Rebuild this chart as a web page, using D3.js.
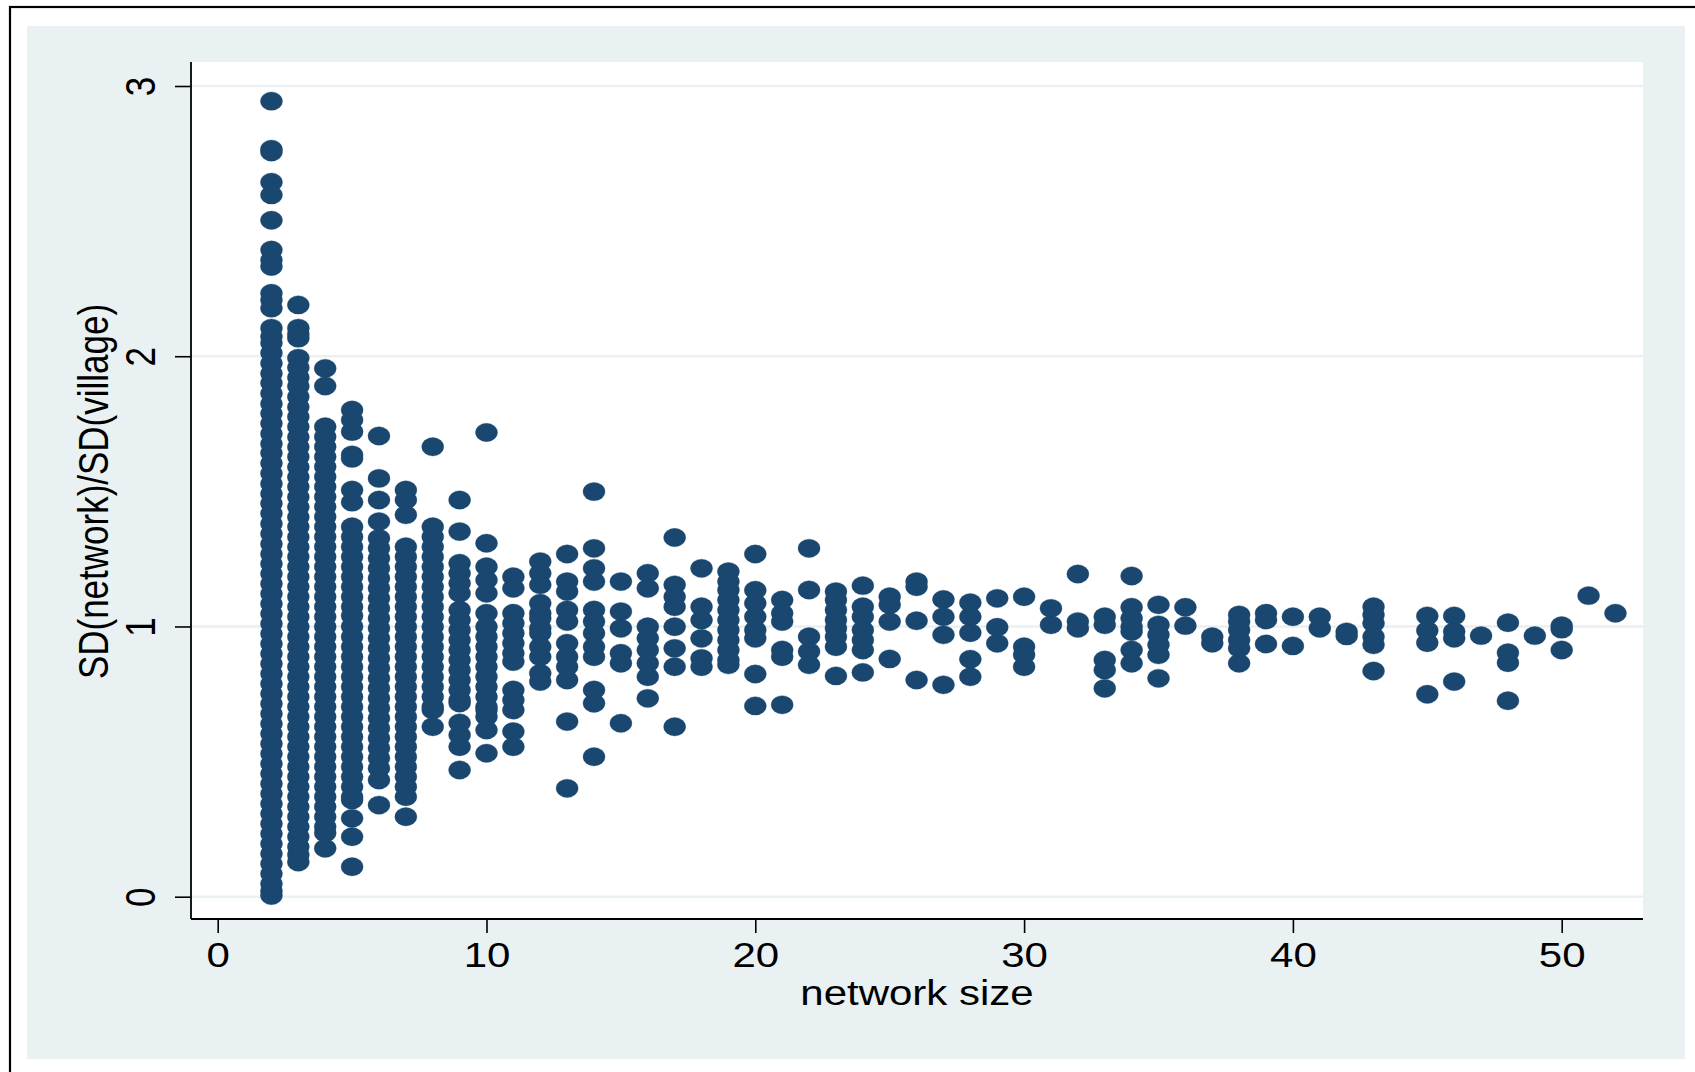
<!DOCTYPE html>
<html>
<head>
<meta charset="utf-8">
<script src="https://cdn.jsdelivr.net/npm/d3@7"></script>
<style>
  html, body { margin: 0; padding: 0; background: #ffffff; }
  svg { display: block; font-family: "Liberation Sans", Arial, sans-serif; }
</style>
</head>
<body>
<svg id="chart" width="1695" height="1072"></svg>
<script>
// ---------- data: SD(network)/SD(village) values read per network size ----------
const col2 = [2.944, 2.766, 2.756, 2.644, 2.597, 2.503, 2.393, 2.356, 2.332, 2.233, 2.208, 2.178, 2.104, 2.073,
  2.049, 2.012, 1.974, 1.936, 1.901, 1.862, 1.824, 1.788, 1.751, 1.713, 1.676, 1.642, 1.604, 1.566, 1.528,
  1.491, 1.455, 1.418, 1.380, 1.343, 1.305, 1.268, 1.232, 1.195, 1.158, 1.121, 1.084, 1.047, 1.010, 0.973,
  0.936, 0.899, 0.862, 0.825, 0.788, 0.751, 0.714, 0.677, 0.640, 0.603, 0.566, 0.529, 0.492, 0.455, 0.418,
  0.381, 0.344, 0.307, 0.270, 0.233, 0.196, 0.159, 0.122, 0.085, 0.048, 0.021, 0.004];
const col3 = [2.190, 2.104, 2.082, 2.067, 1.993, 1.958, 1.921, 1.889, 1.850, 1.812, 1.776, 1.739, 1.701, 1.664,
  1.628, 1.590, 1.553, 1.517, 1.479, 1.442, 1.405, 1.369, 1.331, 1.294, 1.258, 1.221, 1.184, 1.147, 1.110,
  1.073, 1.036, 0.999, 0.962, 0.925, 0.888, 0.851, 0.814, 0.777, 0.740, 0.703, 0.666, 0.629, 0.592, 0.555,
  0.518, 0.481, 0.444, 0.407, 0.370, 0.333, 0.296, 0.259, 0.222, 0.185, 0.155, 0.128];
const col4 = [1.955, 1.890, 1.739, 1.702, 1.665, 1.628, 1.591, 1.554, 1.517, 1.480, 1.443, 1.406, 1.369, 1.332,
  1.295, 1.258, 1.221, 1.184, 1.147, 1.110, 1.073, 1.036, 0.999, 0.962, 0.925, 0.888, 0.851, 0.814, 0.777,
  0.740, 0.703, 0.666, 0.629, 0.592, 0.555, 0.518, 0.481, 0.444, 0.407, 0.370, 0.333, 0.296, 0.259, 0.236, 0.179];
const col5 = [1.801, 1.764, 1.721, 1.635, 1.622, 1.505, 1.460, 1.369, 1.332, 1.295, 1.258, 1.221, 1.184, 1.147,
  1.110, 1.073, 1.040, 1.000, 0.962, 0.925, 0.888, 0.851, 0.814, 0.777, 0.740, 0.703, 0.666, 0.629, 0.592,
  0.555, 0.518, 0.481, 0.444, 0.407, 0.370, 0.358, 0.290, 0.222, 0.111];
const col6 = [1.705, 1.548, 1.468, 1.388, 1.326, 1.289, 1.252, 1.215, 1.178, 1.141, 1.104, 1.067, 1.030, 0.993,
  0.956, 0.919, 0.882, 0.845, 0.808, 0.771, 0.734, 0.697, 0.660, 0.623, 0.586, 0.549, 0.512, 0.475, 0.432, 0.339];
const col7 = [1.505, 1.468, 1.413, 1.295, 1.258, 1.221, 1.184, 1.147, 1.110, 1.073, 1.036, 0.999, 0.962, 0.925,
  0.888, 0.851, 0.814, 0.777, 0.740, 0.703, 0.666, 0.629, 0.592, 0.555, 0.518, 0.481, 0.444, 0.407, 0.370, 0.296];
const col8 = [1.665, 1.369, 1.332, 1.295, 1.258, 1.221, 1.184, 1.147, 1.110, 1.073, 1.036, 0.999, 0.962, 0.925,
  0.888, 0.851, 0.814, 0.777, 0.740, 0.703, 0.691, 0.629];
const col9 = [1.468, 1.351, 1.234, 1.197, 1.160, 1.123, 1.061, 1.024, 0.987, 0.950, 0.913, 0.876, 0.839, 0.802,
  0.765, 0.728, 0.717, 0.643, 0.598, 0.555, 0.469];
const col10 = [1.718, 1.308, 1.221, 1.172, 1.123, 1.049, 0.999, 0.962, 0.925, 0.888, 0.851, 0.814, 0.777, 0.740,
  0.703, 0.691, 0.666, 0.617, 0.531];
const col11 = [1.184, 1.141, 1.049, 1.012, 0.975, 0.938, 0.901, 0.870, 0.765, 0.728, 0.691, 0.611, 0.555];
const col12 = [1.240, 1.197, 1.154, 1.086, 1.049, 1.030, 0.993, 0.975, 0.925, 0.888, 0.827, 0.796];
const col13 = [1.268, 1.166, 1.129, 1.061, 1.018, 0.938, 0.888, 0.851, 0.802, 0.648, 0.401];
const col14 = [1.499, 1.289, 1.215, 1.166, 1.061, 1.018, 0.975, 0.925, 0.888, 0.765, 0.716, 0.518];
const col15 = [1.166, 1.055, 0.993, 0.901, 0.864, 0.642];
const col16 = [1.197, 1.141, 0.999, 0.956, 0.913, 0.864, 0.814, 0.734];
const col17 = [1.329, 1.154, 1.110, 1.073, 0.999, 0.919, 0.851, 0.629];
const col18 = [1.215, 1.073, 1.024, 0.956, 0.882, 0.851];
const col19 = [1.203, 1.166, 1.135, 1.098, 1.061, 1.024, 0.987, 0.950, 0.913, 0.876, 0.858];
const col20 = [1.268, 1.134, 1.086, 1.036, 0.987, 0.956, 0.824, 0.706];
const col21 = [1.098, 1.049, 1.018, 0.913, 0.888, 0.710];
const col22 = [1.289, 1.135, 0.962, 0.907, 0.858];
const col23 = [1.129, 1.098, 1.061, 1.024, 0.993, 0.962, 0.925, 0.817];
const col24 = [1.151, 1.073, 1.036, 0.987, 0.950, 0.913, 0.830];
const col25 = [1.110, 1.080, 1.018, 0.880];
const col26 = [1.166, 1.147, 1.021, 0.802];
const col27 = [1.100, 1.036, 0.969, 0.784];
const col28 = [1.088, 1.036, 0.977, 0.879, 0.814];
const col29 = [1.104, 0.997, 0.938];
const col30 = [1.110, 0.925, 0.895, 0.851];
const col31 = [1.067, 1.006];
const col32 = [1.194, 1.018, 0.993];
const col33 = [1.036, 1.006, 0.876, 0.839, 0.771];
const col34 = [1.187, 1.071, 1.030, 0.999, 0.981, 0.913, 0.864];
const col35 = [1.080, 1.006, 0.969, 0.932, 0.895, 0.808];
const col36 = [1.071, 1.003];
const col37 = [0.962, 0.938];
const col38 = [1.043, 1.018, 0.987, 0.950, 0.919, 0.864];
const col39 = [1.049, 1.024, 0.935];
const col40 = [1.036, 0.928];
const col41 = [1.036, 0.993];
const col42 = [0.980, 0.965];
const col43 = [1.073, 1.043, 1.012, 0.962, 0.932, 0.835];
const col45 = [1.039, 0.985, 0.940, 0.749];
const col46 = [1.039, 0.981, 0.956, 0.796];
const col47 = [0.966];
const col48 = [1.014, 0.903, 0.866, 0.725];
const col49 = [0.966];
const col50 = [1.003, 0.990, 0.913];
const col51 = [1.114];
const col52 = [1.049];

const networkSizes = [2,3,4,5,6,7,8,9,10,11,12,13,14,15,16,17,18,19,20,21,22,23,24,25,26,27,28,29,30,
  31,32,33,34,35,36,37,38,39,40,41,42,43,45,46,47,48,49,50,51,52];
const columnValues = [col2,col3,col4,col5,col6,col7,col8,col9,col10,col11,col12,col13,col14,col15,col16,col17,
  col18,col19,col20,col21,col22,col23,col24,col25,col26,col27,col28,col29,col30,col31,col32,col33,col34,col35,
  col36,col37,col38,col39,col40,col41,col42,col43,col45,col46,col47,col48,col49,col50,col51,col52];

const xTicks = [0, 10, 20, 30, 40, 50];
const yTicks = [0, 1, 2, 3];
const xTitle = "network size";
const yTitle = "SD(network)/SD(village)";

// ---------- build points ----------
const points = [];
networkSizes.forEach((n, i) => columnValues[i].forEach(v => points.push({ n, v })));

// ---------- layout ----------
const svg = d3.select("#chart");
const plotLeft = 191, plotRight = 1643, plotTop = 62, plotBottom = 919;
const x = d3.scaleLinear().domain([0, 50]).range([217.7, 1561.7]);
const y = d3.scaleLinear().domain([0, 3]).range([896.7, 86]);
const navy = "#1a476f";
const bgBlue = "#e9f1f3";
const FS = 35, SX = 1.2;

// outer frame
svg.append("rect").attr("x", 10).attr("y", 7).attr("width", 1700).attr("height", 1080)
  .attr("fill", "#ffffff").attr("stroke", "#000").attr("stroke-width", 2.2);
// graph region
svg.append("rect").attr("x", 27).attr("y", 26).attr("width", 1658).attr("height", 1033).attr("fill", bgBlue);
// plot region
svg.append("rect").attr("x", plotLeft).attr("y", plotTop)
  .attr("width", plotRight - plotLeft).attr("height", plotBottom - plotTop).attr("fill", "#ffffff");

// gridlines
svg.append("g").selectAll("line").data(yTicks).join("line")
  .attr("x1", plotLeft).attr("x2", plotRight)
  .attr("y1", d => y(d)).attr("y2", d => y(d))
  .attr("stroke", bgBlue).attr("stroke-width", 2.6);

// points
svg.append("g").selectAll("ellipse").data(points).join("ellipse")
  .attr("cx", d => x(d.n)).attr("cy", d => y(d.v))
  .attr("rx", 11).attr("ry", 9.2)
  .attr("fill", navy).attr("stroke", navy).attr("stroke-opacity", 0.6).attr("stroke-width", 0.6);

// x axis
const gx = svg.append("g").attr("transform", `translate(0,${plotBottom})`)
  .call(d3.axisBottom(x).tickValues(xTicks).tickSize(14).tickSizeOuter(0).tickFormat(d3.format("d")));
gx.select(".domain").attr("d", `M${plotLeft},0H${plotRight}`).attr("stroke", "#000").attr("stroke-width", 1.8);
gx.selectAll(".tick line").attr("stroke", "#000").attr("stroke-width", 1.6);
gx.selectAll(".tick text")
  .attr("y", 47.7).attr("dy", null)
  .attr("transform", `scale(${SX},1)`)
  .attr("font-size", FS).attr("fill", "#000")
  .attr("font-family", "Liberation Sans, Arial, sans-serif");

// y axis
const gy = svg.append("g").attr("transform", `translate(${plotLeft},0)`)
  .call(d3.axisLeft(y).tickValues(yTicks).tickSize(16).tickSizeOuter(0).tickFormat(d3.format("d")));
gy.select(".domain").attr("d", `M0,${plotTop}V${plotBottom}`).attr("stroke", "#000").attr("stroke-width", 1.8);
gy.selectAll(".tick line").attr("stroke", "#000").attr("stroke-width", 1.6);
gy.selectAll(".tick text")
  .attr("x", null).attr("dy", null)
  .attr("text-anchor", "middle")
  .attr("transform", `translate(-36,0) scale(${SX},1) rotate(-90)`)
  .attr("font-size", FS).attr("fill", "#000")
  .attr("font-family", "Liberation Sans, Arial, sans-serif");

// axis titles
svg.append("text").text(xTitle)
  .attr("text-anchor", "middle")
  .attr("transform", `translate(${(plotLeft + plotRight) / 2},1005) scale(${SX},1)`)
  .attr("font-size", FS).attr("fill", "#000");
svg.append("text").text(yTitle)
  .attr("text-anchor", "middle")
  .attr("transform", `translate(108,${(plotTop + plotBottom) / 2 + 1}) scale(${SX},1) rotate(-90)`)
  .attr("font-size", FS).attr("fill", "#000");
</script>
</body>
</html>
